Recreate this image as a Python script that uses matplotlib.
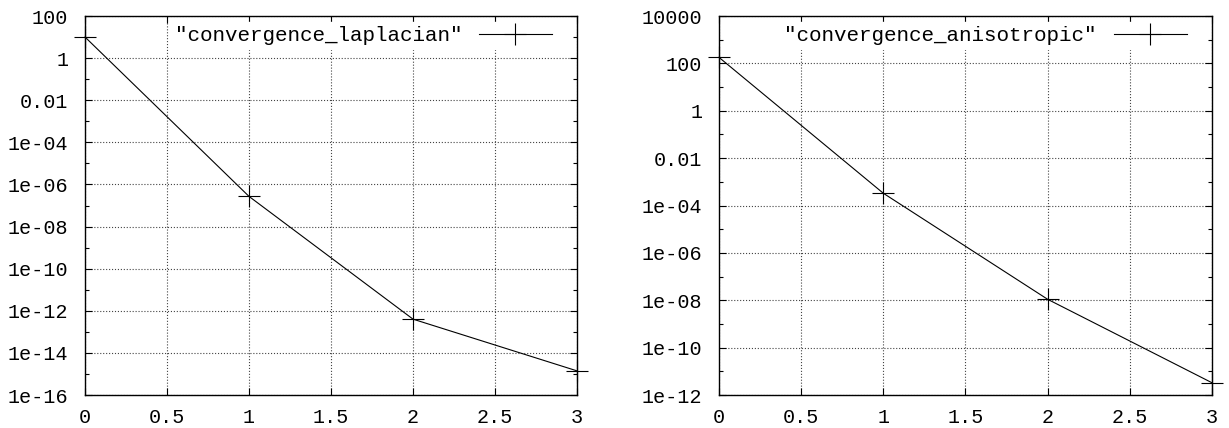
import numpy as np
import matplotlib.pyplot as plt
from matplotlib.ticker import FixedLocator

# residual per iteration
iters = [0, 1, 2, 3]
res_laplacian = [10, 2.7e-7, 4e-13, 1.4e-15]
res_anisotropic = [180, 3.3e-4, 1.1e-8, 3.3e-12]

lap_exp = list(range(2, -17, -2))     # 1e2 .. 1e-16
ani_exp = list(range(4, -13, -2))     # 1e4 .. 1e-12
xticks = [0, 0.5, 1, 1.5, 2, 2.5, 3]
xlabels = ['0', '0.5', '1', '1.5', '2', '2.5', '3']

plt.rcParams['font.family'] = ['Liberation Mono', 'DejaVu Sans Mono']
plt.rcParams['font.size'] = 14.5


def gp_label(e):
    # gnuplot style tick text
    if e >= 0:
        return str(10 ** e)
    if e == -2:
        return '0.01'
    return '1e-%02d' % (-e)


def draw(ax, y, name, exps):
    ax.plot(iters, y, color='black', lw=0.8, marker='+', ms=16, mew=0.8,
            clip_on=False, label='"%s"' % name, zorder=3)
    ax.set_yscale('log')
    ax.set_xlim(0, 3)
    ax.set_ylim(10.0 ** exps[-1], 10.0 ** exps[0])
    ax.set_xticks(xticks)
    ax.set_xticklabels(xlabels)
    ax.yaxis.set_major_locator(FixedLocator([10.0 ** e for e in exps]))
    ax.yaxis.set_minor_locator(FixedLocator([10.0 ** (e - 1) for e in exps[:-1]]))
    ax.set_yticklabels([gp_label(e) for e in exps])
    ax.yaxis.set_minor_formatter(plt.NullFormatter())
    ax.tick_params(which='both', direction='in', top=True, right=True, color='black')
    ax.tick_params(which='major', length=5, width=0.8)
    ax.tick_params(which='minor', length=3, width=0.8)
    ax.tick_params(axis='y', which='major', pad=12)
    ax.tick_params(axis='x', which='major', pad=9)
    ax.grid(True, which='major', ls=':', lw=0.8, color='#444444')
    for s in ax.spines.values():
        s.set_linewidth(1.0)
    leg = ax.legend(loc='upper right', bbox_to_anchor=(0.957, 0.985), borderaxespad=0,
                    markerfirst=False, handlelength=3.5, handletextpad=0.8,
                    frameon=True, fancybox=False, framealpha=1, fontsize=15,
                    facecolor='white', edgecolor='white', borderpad=0.2)
    leg.set_zorder(2)


fig = plt.figure(figsize=(12.29, 4.28), dpi=100)
ax1 = fig.add_axes([0.0692, 0.0771, 0.4003, 0.8855])
ax2 = fig.add_axes([0.5850, 0.0771, 0.4011, 0.8855])

draw(ax1, res_laplacian, 'convergence_laplacian', lap_exp)
draw(ax2, res_anisotropic, 'convergence_anisotropic', ani_exp)

fig.savefig('out.png', dpi=100)
